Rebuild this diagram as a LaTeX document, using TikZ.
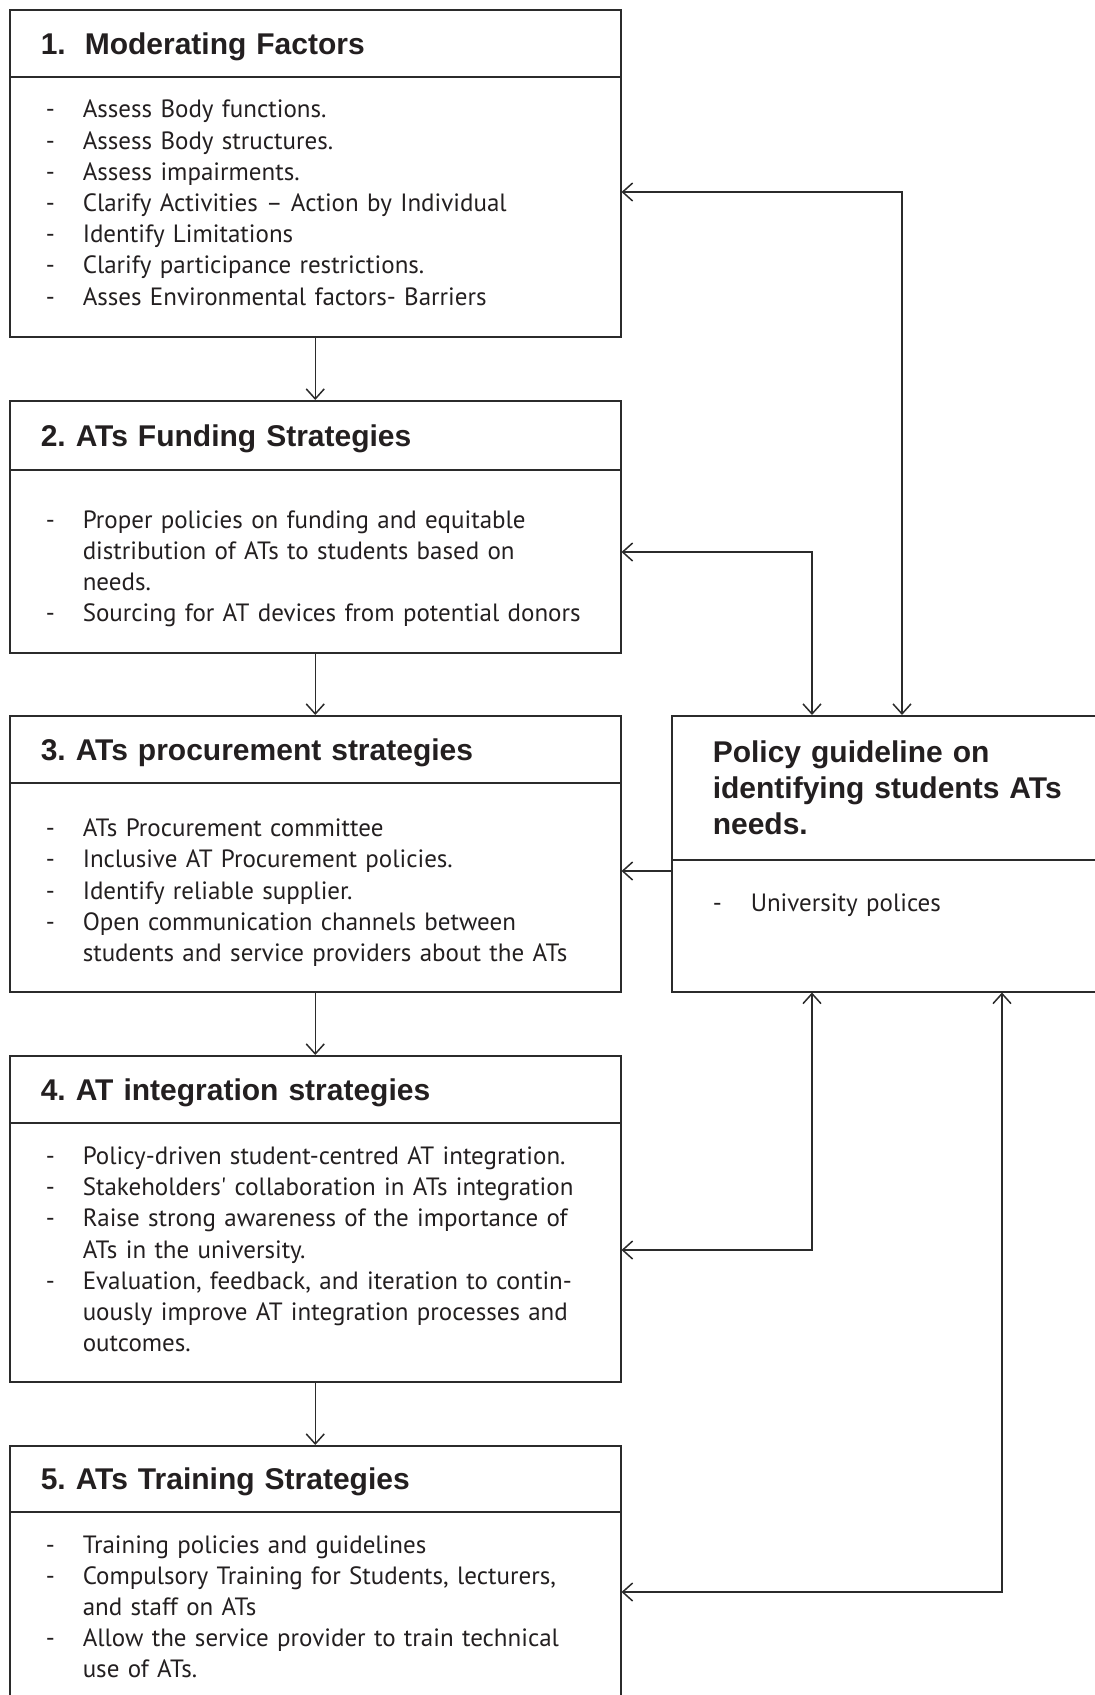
\documentclass[tikz,border=0pt]{standalone}
\usepackage{fontspec}
\setmainfont{PT Sans}[WordSpace=0.85]
\newfontfamily\headfont{Liberation Sans}
\usetikzlibrary{arrows.meta}
\definecolor{ink}{HTML}{231F20}
\definecolor{rule}{HTML}{2B2B2B}
\newcommand\listdash{\makebox[37pt][l]{-}}
\newcommand\listcont{\hspace*{37pt}}
\frenchspacing

\begin{document}
\begin{tikzpicture}[x=1pt, y=-1pt, line width=1.5pt, draw=rule, text=ink,
  >={Straight Barb[length=10pt,width=18pt]},
  boxhead/.style={draw, anchor=north west, minimum width=611pt, minimum height=67pt,
    inner xsep=31pt, inner ysep=0pt, text width=549pt, align=left,
    font=\headfont\bfseries\fontsize{30}{36}\selectfont},
  head/.style={boxhead, text height=22pt, text depth=0pt},
  body/.style={draw, anchor=north west, minimum width=611pt, inner xsep=36pt,
    inner ysep=0pt, text width=539pt, align=left,
    font=\fontsize{25}{31.2}\selectfont}]
  \useasboundingbox (0,0) rectangle (1095,1695);
  \clip (0,0) rectangle (1095,1695);
  % moderating factors
  \node[head] (t1) at (9,9) {1.\hspace{19pt}Moderating Factors};
  \node[body, minimum height=260pt] (b1) at (9,76) {\listdash Assess Body functions.\\
    \listdash Assess Body structures.\\
    \listdash Assess impairments.\\
    \listdash Clarify Activities – Action by Individual\\
    \listdash Identify Limitations\\
    \listdash Clarify participance restrictions.\\
    \listdash Asses Environmental factors- Barriers\vspace*{8pt}};
  % funding
  \node[head, minimum height=69pt] (t2) at (9,400) {2. ATs Funding Strategies};
  \node[body, minimum height=183pt] (b2) at (9,469) {\listdash Proper policies on funding and equitable\\
    \listcont distribution of ATs to students based on\\
    \listcont needs.\\
    \listdash Sourcing for AT devices from potential donors\vspace*{-15pt}};
  % procurement
  \node[head] (t3) at (9,715) {3. ATs procurement strategies};
  \node[body, minimum height=209pt] (b3) at (9,782) {\listdash ATs Procurement committee\\
    \listdash Inclusive AT Procurement policies.\\
    \listdash Identify reliable supplier.\\
    \listdash Open communication channels between\\
    \listcont students and service providers about the ATs\vspace*{-11pt}};
  % integration
  \node[head] (t4) at (9,1055) {4. AT integration strategies};
  \node[body, minimum height=259pt] (b4) at (9,1122) {\listdash Policy-driven student-centred AT integration.\\
    \listdash Stakeholders\textquotesingle{} collaboration in ATs integration\\
    \listdash Raise strong awareness of the importance of\\
    \listcont ATs in the university.\\
    \listdash Evaluation, feedback, and iteration to contin-\\
    \listcont uously improve AT integration processes and\\
    \listcont outcomes.\vspace*{6pt}};
  % training
  \node[head, minimum height=66pt] (t5) at (9,1445) {5. ATs Training Strategies};
  \node[body, minimum height=194pt] (b5) at (9,1511) {\listdash Training policies and guidelines\\
    \listdash Compulsory Training for Students, lecturers,\\
    \listcont and staff on ATs\\
    \listdash Allow the service provider to train technical\\
    \listcont use of ATs.\vspace*{4pt}};
  % policy guideline
  \node[boxhead, minimum width=482pt, text width=400pt, inner xsep=41pt,
    minimum height=144pt] (pt) at (671,715) {Policy guideline on\\identifying students ATs\\needs.};
  \node[body, minimum width=482pt, text width=400pt, inner xsep=41pt,
    minimum height=132pt, text height=24pt, text depth=52pt] (pb) at (671,859)
    {\makebox[38pt][l]{-}University polices};
  % flow down the left column
  \draw[->] (b1.south) -- (t2.north);
  \draw[->] (b2.south) -- (t3.north);
  \draw[->] (b3.south) -- (t4.north);
  \draw[->] (b4.south) -- (t5.north);
  % links to the policy box
  \coordinate (j1) at (902,192);
  \coordinate (j2) at (812,552);
  \coordinate (j3) at (0,871);
  \coordinate (j4) at (812,1250);
  \coordinate (j5) at (1002,1592);
  \draw[<->] (b1.east |- j1) -| (pt.north -| j1);
  \draw[<->] (b2.east |- j2) -| (pt.north -| j2);
  \draw[->] (pb.west |- j3) -- (b3.east |- j3);
  \draw[<->] (b4.east |- j4) -| (pb.south -| j4);
  \draw[<->] (b5.east |- j5) -| (pb.south -| j5);
\end{tikzpicture}
\end{document}
